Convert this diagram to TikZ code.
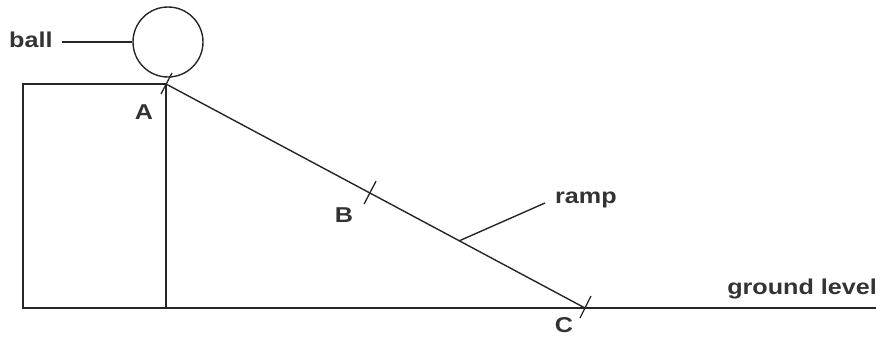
\documentclass[tikz,border=0pt]{standalone}
\usepackage{fontspec}
\setmainfont[FakeStretch=1.17]{Liberation Sans}
\usetikzlibrary{calc}
\begin{document}
\begin{tikzpicture}[x=1pt,y=-1pt,
  ln/.style={line width=1.4pt, draw=black!85},
  tk/.style={line width=1.3pt, draw=black!85},
  lbl/.style={font=\fontsize{21.5}{24}\selectfont\bfseries, text=black!80, inner sep=0pt}]
\useasboundingbox (0,0) rectangle (881,340);
% points
\coordinate (TL) at (23,84);
\coordinate (BL) at (23,308);
\coordinate (A) at (166,84);
\coordinate (F) at (166,308);
\coordinate (C) at (585,308);
\coordinate (GE) at (876,308);
\coordinate (B) at ($(A)!0.487!(C)$);
\coordinate (R) at ($(A)!0.70!(C)$);
\coordinate (Rend) at (545,203);
\coordinate (BallLe) at (62,42);
% structure
\draw[ln] (A) -- (TL) -- (BL) -- (GE);
\draw[ln] (A) -- (F);
\draw[ln] (A) -- (C);
% ball
\node[circle, draw=black!85, line width=1.4pt, minimum size=70pt, inner sep=0pt] (ball) at (168,42) {};
\node[lbl, anchor=west] (balltxt) at (9,40) {ball};
\draw[ln] (BallLe) -- (ball.west);
% ticks
\draw[tk] ($(A)+(-5,10)$) -- ($(A)+(6,-11)$);
\draw[tk] ($(B)+(-6,11)$) -- ($(B)+(6,-12)$);
\draw[tk] ($(C)+(-5,10)$) -- ($(C)+(6,-12)$);
% labels
\node[lbl] (Atxt) at (144,112) {A};
\node[lbl] (Btxt) at (344,215) {B};
\node[lbl] (Ctxt) at (564,325) {C};
\node[lbl, anchor=west] (ramptxt) at (555,200) {ramp};
\draw[ln] (R) -- (Rend);
\node[lbl, anchor=east] (gtxt) at (877,289) {ground level};
\end{tikzpicture}
\end{document}
